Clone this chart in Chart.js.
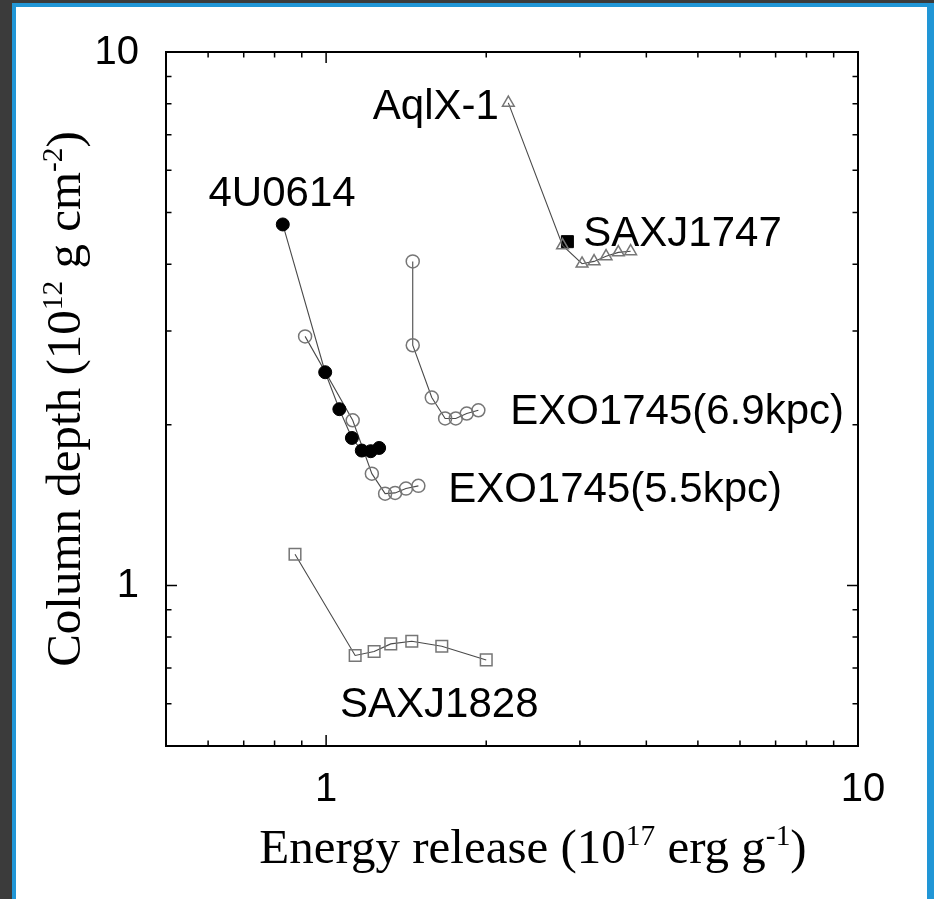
<!DOCTYPE html>
<html>
<head>
<meta charset="utf-8">
<title>Column depth vs energy release</title>
<script src="https://cdn.jsdelivr.net/npm/chart.js@4.4.0/dist/chart.umd.min.js"></script>
<style>
  html, body { margin: 0; padding: 0; width: 934px; height: 899px; overflow: hidden; background: #3b3b3b; }
  #panel {
    position: absolute; left: 12px; top: 3px; width: 922px; height: 900px;
    box-sizing: border-box; background: #fff;
    border-left: 4px solid #2196d6; border-top: 4px solid #2196d6; border-right: 7px solid #2196d6;
  }
  #myChart { position: absolute; left: 0; top: 0; }
</style>
</head>
<body>
<div id="panel"></div>
<canvas id="myChart" width="934" height="899"></canvas>
<script>
// energy release (1e17 erg/g) vs column depth (1e12 g/cm2) for each source
const u0614X = [0.829, 0.996, 1.059, 1.118, 1.167, 1.213, 1.258];
const u0614Y = [4.75, 2.51, 2.14, 1.89, 1.79, 1.785, 1.81];

const exo55X = [0.913, 1.122, 1.219, 1.291, 1.348, 1.413, 1.491];
const exo55Y = [2.93, 2.04, 1.62, 1.486, 1.491, 1.519, 1.537];

const exo69X = [1.455, 1.455, 1.580, 1.674, 1.753, 1.838, 1.933];
const exo69Y = [4.05, 2.82, 2.25, 2.056, 2.056, 2.10, 2.13];

const aqlX = [2.201, 2.783, 3.028, 3.190, 3.360, 3.543, 3.737];
const aqlY = [8.03, 4.34, 4.01, 4.05, 4.14, 4.21, 4.23];

const sax1747X = [2.842];
const sax1747Y = [4.41];

const sax1828X = [0.874, 1.134, 1.231, 1.323, 1.449, 1.650, 2.000];
const sax1828Y = [1.144, 0.739, 0.752, 0.777, 0.786, 0.769, 0.725];

// source names written next to the curves (left edge / baseline, data units)
const labelText = ['AqlX-1', '4U0614', 'SAXJ1747', 'EXO1745(6.9kpc)', 'EXO1745(5.5kpc)', 'SAXJ1828'];
const labelX = [1.224, 0.601, 3.045, 2.218, 1.696, 1.062];
const labelY = [7.49, 5.15, 4.32, 2.006, 1.432, 0.566];

// axis ticks
const majorTicks = [1, 10];
const minorTicks = [0.6, 0.7, 0.8, 0.9, 2, 3, 4, 5, 6, 7, 8, 9];
const tickLabels = ['1', '10'];

const SANS = '"Liberation Sans", Arial, Helvetica, sans-serif';
const SERIF = '"Liberation Serif", "Times New Roman", serif';

function pts(xs, ys) {
    return xs.map((x, i) => ({ x: x, y: ys[i] }));
}

function series(xs, ys, style, radius, filled) {
    return {
        data: pts(xs, ys),
        showLine: true,
        borderColor: '#4a4a4a',
        borderWidth: 1.1,
        pointStyle: style,
        pointRadius: radius,
        pointBorderWidth: filled ? 1 : 1.5,
        pointBorderColor: filled ? '#000' : '#767676',
        pointBackgroundColor: filled ? '#000' : 'rgba(0,0,0,0)'
    };
}

// text with superscript pieces, e.g. 10^17
function richWidth(ctx, parts, size) {
    let w = 0;
    parts.forEach(p => {
        ctx.font = (p.sup ? size * 0.6 : size) + 'px ' + SERIF;
        w += ctx.measureText(p.t).width;
    });
    return w;
}

function drawRich(ctx, parts, x, y, size) {
    let cx = x;
    parts.forEach(p => {
        ctx.font = (p.sup ? size * 0.6 : size) + 'px ' + SERIF;
        ctx.fillText(p.t, cx, p.sup ? y - size * 0.36 : y);
        cx += ctx.measureText(p.t).width;
    });
}

const xTitle = [{ t: 'Energy release (10' }, { t: '17', sup: true }, { t: ' erg g' }, { t: '-1', sup: true }, { t: ')' }];
const yTitle = [{ t: 'Column depth (10' }, { t: '12', sup: true }, { t: ' g cm' }, { t: '-2', sup: true }, { t: ')' }];

const framePlugin = {
    id: 'frame',
    afterDatasetsDraw(chart) {
        const ctx = chart.ctx;
        const xs = chart.scales.x;
        const ys = chart.scales.y;
        const a = chart.chartArea;

        ctx.save();
        ctx.strokeStyle = '#000';
        ctx.lineWidth = 2;
        ctx.strokeRect(a.left, a.top, a.right - a.left, a.bottom - a.top);

        // inward ticks on all four sides
        ctx.lineWidth = 1.5;
        const tick = (v, len) => {
            const px = xs.getPixelForValue(v);
            const py = ys.getPixelForValue(v);
            ctx.beginPath();
            ctx.moveTo(px, a.bottom); ctx.lineTo(px, a.bottom - len);
            ctx.moveTo(px, a.top); ctx.lineTo(px, a.top + len);
            ctx.moveTo(a.left, py); ctx.lineTo(a.left + len, py);
            ctx.moveTo(a.right, py); ctx.lineTo(a.right - len, py);
            ctx.stroke();
        };
        majorTicks.forEach(v => tick(v, 11));
        minorTicks.forEach(v => tick(v, 5.5));

        // tick labels
        ctx.fillStyle = '#000';
        ctx.font = '40px ' + SANS;
        ctx.textBaseline = 'middle';
        majorTicks.forEach((v, i) => {
            ctx.textAlign = 'right';
            ctx.fillText(tickLabels[i], a.left - 27, ys.getPixelForValue(v) + 1);
            ctx.textAlign = 'center';
            ctx.fillText(tickLabels[i], xs.getPixelForValue(v) + (i === 1 ? 5 : 0), a.bottom + 44);
        });

        // source names
        ctx.textAlign = 'left';
        ctx.textBaseline = 'alphabetic';
        ctx.font = '42px ' + SANS;
        labelText.forEach((t, i) => {
            ctx.fillText(t, xs.getPixelForValue(labelX[i]), ys.getPixelForValue(labelY[i]));
        });

        // axis titles
        const size = 49;
        const xw = richWidth(ctx, xTitle, size);
        drawRich(ctx, xTitle, (a.left + a.right) / 2 + 21 - xw / 2, a.bottom + 117, size);

        const yw = richWidth(ctx, yTitle, size);
        ctx.translate(80, (a.top + a.bottom) / 2);
        ctx.rotate(-Math.PI / 2);
        drawRich(ctx, yTitle, -yw / 2, 0, size);
        ctx.restore();
    }
};

new Chart(document.getElementById('myChart').getContext('2d'), {
    type: 'scatter',
    data: {
        datasets: [
            series(u0614X, u0614Y, 'circle', 6.5, true),
            series(exo55X, exo55Y, 'circle', 6.5, false),
            series(exo69X, exo69Y, 'circle', 6.5, false),
            series(aqlX, aqlY, 'triangle', 6.8, false),
            series(sax1747X, sax1747Y, 'rect', 8.5, true),
            series(sax1828X, sax1828Y, 'rect', 8.2, false)
        ]
    },
    options: {
        responsive: false,
        animation: false,
        clip: false,
        layout: { padding: { left: 166, top: 52, right: 76, bottom: 153 } },
        plugins: {
            legend: { display: false },
            tooltip: { enabled: false }
        },
        scales: {
            x: { type: 'logarithmic', min: 0.5, max: 10, display: false },
            y: { type: 'logarithmic', min: 0.5, max: 10, display: false }
        }
    },
    plugins: [framePlugin]
});
</script>
</body>
</html>
